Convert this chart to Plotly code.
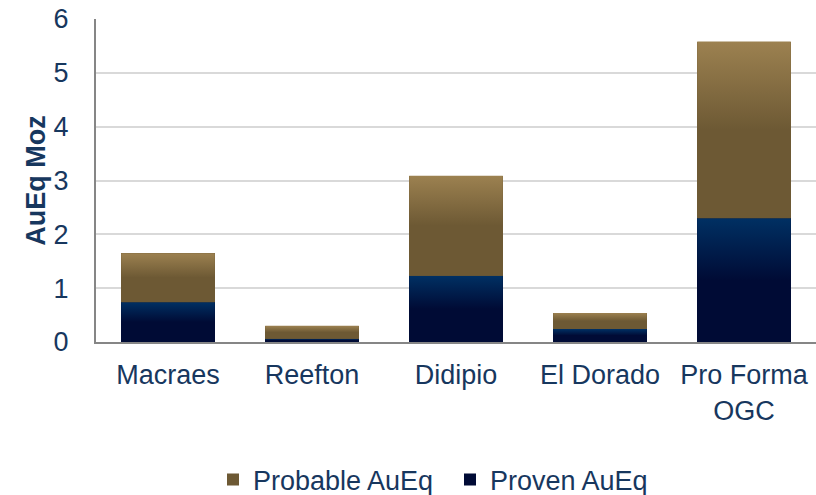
import plotly.graph_objects as go

categories = ["Macraes", "Reefton", "Didipio", "El Dorado", "Pro Forma<br>OGC"]
proven = [0.74, 0.06, 1.23, 0.24, 2.30]
probable = [0.91, 0.24, 1.86, 0.30, 3.28]
y_ticks = [0, 1, 2, 3, 4, 5, 6]

TEXT = "#17375E"
PROVEN_DARK = "#000b35"
PROVEN_LIGHT = "#003063"
PROB_DARK = "#6d5934"
PROB_LIGHT = "#9c8150"
FONT = "Liberation Sans, Arial, sans-serif"
FS = 27
BAR_W = 0.65

xs = list(range(len(categories)))

fig = go.Figure()
fig.add_trace(go.Bar(x=xs, y=proven, name="Proven AuEq", width=BAR_W,
                     marker=dict(color=PROVEN_DARK, line=dict(width=0))))
fig.add_trace(go.Bar(x=xs, y=probable, name="Probable AuEq", width=BAR_W,
                     marker=dict(color=PROB_DARK, line=dict(width=0))))

# gradient overlays derived from the same data
for vals, bases, dark, light in [
    (proven, [0] * len(proven), PROVEN_DARK, PROVEN_LIGHT),
    (probable, proven, PROB_DARK, PROB_LIGHT),
]:
    for i, (v, b) in enumerate(zip(vals, bases)):
        top = b + v
        fig.add_trace(go.Scatter(
            x=[i - BAR_W / 2, i + BAR_W / 2, i + BAR_W / 2, i - BAR_W / 2, i - BAR_W / 2],
            y=[b, b, top, top, b],
            mode="lines", line=dict(width=0), fill="toself",
            fillgradient=dict(type="vertical", start=b, stop=top,
                              colorscale=[[0, dark], [0.5, dark], [1, light]]),
            showlegend=False, hoverinfo="skip"))

fig.update_layout(
    width=816, height=495,
    margin=dict(l=96, r=0, t=19, b=153),
    barmode="stack",
    plot_bgcolor="white", paper_bgcolor="white",
    font=dict(family=FONT, size=FS, color=TEXT),
    showlegend=True,
    legend=dict(orientation="h", traceorder="reversed",
                xref="container", yref="container",
                x=213 / 816, xanchor="left", y=1 - 480 / 495, yanchor="middle",
                entrywidth=192, entrywidthmode="pixels",
                font=dict(family=FONT, size=FS, color=TEXT)),
    xaxis=dict(range=[-0.5, 4.5], tickmode="array", tickvals=xs, ticktext=categories,
               showline=True, linecolor="#868686", linewidth=2, showgrid=False,
               ticks="", zeroline=False, fixedrange=True, ticklabelstandoff=8),
    yaxis=dict(range=[0, 6], tickmode="array", tickvals=y_ticks,
               showline=True, linecolor="#868686", linewidth=2,
               showgrid=True, gridcolor="#d9d9d9", gridwidth=2,
               zeroline=False, ticks="", ticklabelstandoff=20,
               title=dict(text="<b>AuEq Moz</b>", standoff=0,
                          font=dict(family=FONT, size=FS, color=TEXT))),
)

fig.write_html("out.html")
